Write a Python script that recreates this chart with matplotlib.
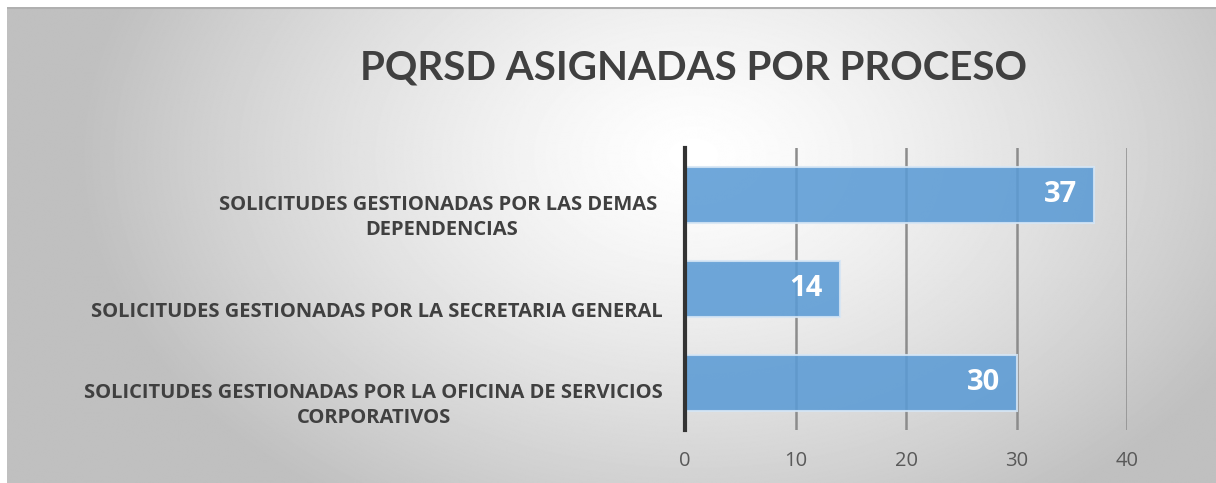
import numpy as np
import matplotlib.pyplot as plt

# data (bottom to top, as Excel draws a bar chart)
categories = ['SOLICITUDES GESTIONADAS POR LA OFICINA DE SERVICIOS\nCORPORATIVOS',
              'SOLICITUDES GESTIONADAS POR LA SECRETARIA GENERAL',
              'SOLICITUDES GESTIONADAS POR LAS DEMAS \nDEPENDENCIAS']
values = [30, 14, 37]
x_ticks = [0, 10, 20, 30, 40]
title = 'PQRSD ASIGNADAS POR PROCESO'

plt.rcParams['font.family'] = ['Open Sans', 'DejaVu Sans']

W, H = 1216, 483
fig = plt.figure(figsize=(W / 100, H / 100), dpi=100)
fig.patch.set_facecolor('white')

# radial gray background
bg = fig.add_axes([7 / W, 0, 1 - 7 / W, 1 - 7 / H])
yy, xx = np.mgrid[0:H, 0:W]
r = np.sqrt(((xx - 690) / 620.0) ** 2 + ((yy - 150) / 430.0) ** 2)
shade = 1.0 - 0.25 * np.clip(r, 0, 1) ** 1.3
bg.imshow(shade, cmap='gray', vmin=0, vmax=1, aspect='auto', extent=[0, 1, 0, 1])
bg.set_axis_off()
# thin top border line
bg.plot([0, 1], [0.998, 0.998], color='#b0b0b0', lw=1.5, transform=bg.transAxes)

ax = fig.add_axes([685 / W, 1 - 430 / H, (1127 - 685) / W, (430 - 148) / H])
ax.patch.set_alpha(0)

ypos = np.arange(len(categories))
ax.barh(ypos, values, height=0.59, color='#5b9bd5', alpha=0.88,
        edgecolor='#d6e6f5', linewidth=1.5, zorder=3)
for y, v in zip(ypos, values):
    ax.annotate(str(v), xy=(v, y), xytext=(-12, 0), textcoords='offset points',
                ha='right', va='center', color='white', fontsize=21,
                fontweight='bold', zorder=5)

ax.set_xlim(0, 40)
ax.set_ylim(-0.5, 2.5)
ax.set_xticks(x_ticks)
ax.set_xticklabels([str(t) for t in x_ticks], color='#595959', fontsize=14.5)
ax.tick_params(axis='x', length=0, pad=15)
ax.grid(axis='x', color='#8c8c8c', linewidth=1.8, zorder=0)
ax.set_yticks([])
for s in ['top', 'right', 'bottom']:
    ax.spines[s].set_visible(False)
ax.spines['left'].set_color('#333333')
ax.spines['left'].set_linewidth(3)
ax.spines['left'].set_zorder(4)

# category labels, right aligned to the left of the axis
for y, lab in zip(ypos, categories):
    ax.text(-0.05, y - 0.24, lab, transform=ax.get_yaxis_transform(),
            ha='right', va='center', multialignment='center',
            fontsize=14.5, fontweight='bold', color='#404040', linespacing=1.35)

fig.text(693 / W, 1 - 68 / H, title, ha='center', va='center',
         fontsize=29, fontweight='bold', color='#404040', family='Lato')

fig.savefig('out.png', dpi=100)
